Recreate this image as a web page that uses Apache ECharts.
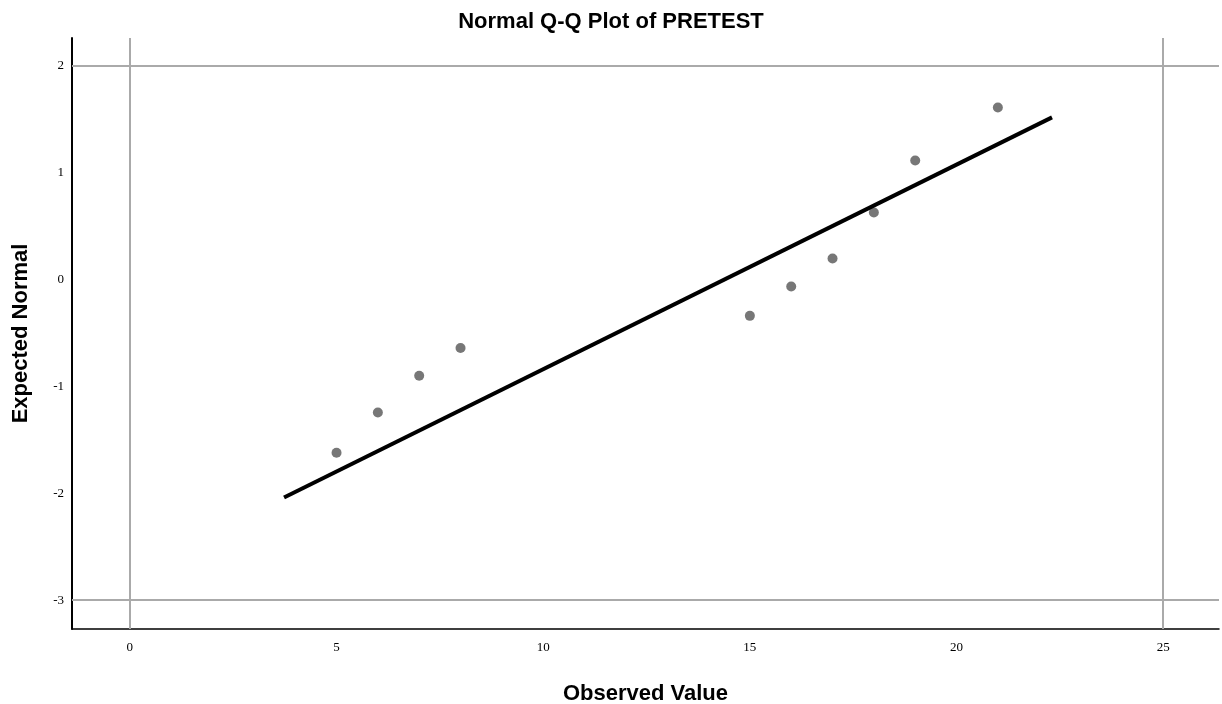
<!DOCTYPE html>
<html>
<head>
<meta charset="utf-8">
<script src="https://cdn.jsdelivr.net/npm/echarts@6/dist/echarts.min.js"></script>
<style>html,body{margin:0;padding:0;background:#fff;}#c{width:1222px;height:704px;}</style>
</head>
<body>
<div id="c"></div>
<script>
const observed = [5, 6, 7, 8, 15, 16, 17, 18, 19, 21];
const expected = [-1.62, -1.245, -0.90, -0.64, -0.34, -0.066, 0.197, 0.627, 1.114, 1.61];
const lineX = [3.73, 22.31];
const lineY = [-2.04, 1.517];
const xTicks = [0, 5, 10, 15, 20, 25];
const yTicks = [-3, -2, -1, 0, 1, 2];
const refX = [0, 25];
const refY = [2, -3];

const chart = echarts.init(document.getElementById('c'));
const serif = '"Liberation Serif","Times New Roman",serif';
const sans = '"Liberation Sans",Arial,sans-serif';
chart.setOption({
  animation: false,
  title: {
    text: 'Normal Q-Q Plot of PRETEST', left: 'center', top: 6,
    textStyle: { fontFamily: sans, fontWeight: 'bold', fontSize: 22, color: '#000' }
  },
  grid: { left: 72, right: 3, top: 38, bottom: 75, containLabel: false, outerBoundsMode: 'none' },
  xAxis: {
    type: 'value', min: -1.4, max: 26.35,
    name: 'Observed Value', nameLocation: 'middle', nameGap: 54,
    nameTextStyle: { fontFamily: sans, fontWeight: 'bold', fontSize: 22, color: '#000' },
    axisLine: { onZero: false, lineStyle: { color: '#000', width: 1.5 } },
    axisTick: { show: false },
    splitLine: { show: false },
    axisLabel: { customValues: xTicks, fontFamily: serif, fontSize: 13, color: '#000', margin: 12 }
  },
  yAxis: {
    type: 'value', min: -3.27, max: 2.26,
    name: 'Expected Normal', nameLocation: 'middle', nameGap: 40,
    nameTextStyle: { fontFamily: sans, fontWeight: 'bold', fontSize: 22, color: '#000' },
    axisLine: { onZero: false, lineStyle: { color: '#000', width: 2 } },
    axisTick: { show: false },
    splitLine: { show: false },
    axisLabel: { customValues: yTicks, fontFamily: serif, fontSize: 13, color: '#000', margin: 8 }
  },
  series: [
    {
      type: 'scatter',
      data: observed.map((x, i) => [x, expected[i]]),
      symbolSize: 10,
      itemStyle: { color: '#777777', opacity: 1 },
      z: 3,
      markLine: {
        silent: true, symbol: 'none', label: { show: false },
        lineStyle: { color: '#aaaaaa', width: 2, type: 'solid' },
        data: refX.map(v => ({ xAxis: v })).concat(refY.map(v => ({ yAxis: v })))
      }
    },
    {
      type: 'line',
      data: lineX.map((x, i) => [x, lineY[i]]),
      symbol: 'none',
      lineStyle: { color: '#000', width: 4 },
      z: 4
    }
  ]
});
</script>
</body>
</html>
